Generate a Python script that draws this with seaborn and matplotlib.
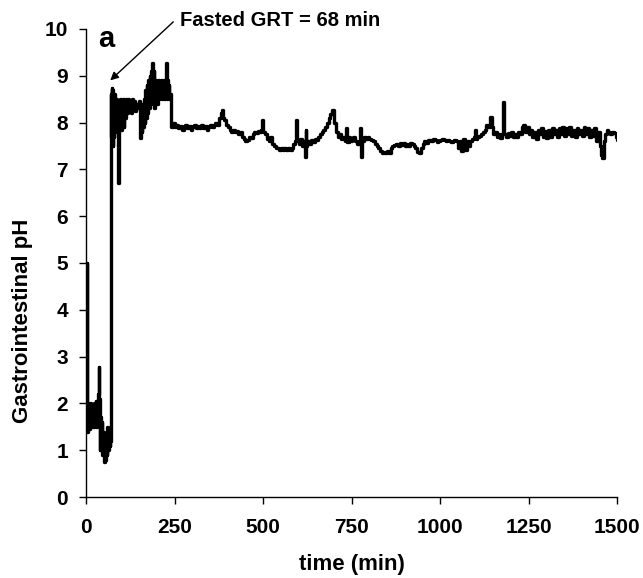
import matplotlib
matplotlib.use("Agg")
import matplotlib.pyplot as plt
import seaborn as sns
import pandas as pd

# ---- data ----
# stomach phase (0-68 min)
t_gastric = [0, 1, 2, 3, 4, 5, 7, 9, 11, 13, 15, 17, 19, 21, 23, 25, 27, 29, 31, 33,
             35, 36, 38, 40, 42, 44, 46, 48, 50, 52, 54, 56, 58, 60, 62, 64, 66, 67, 68]
ph_gastric = [1.6, 4.2, 5.0, 1.4, 1.9, 1.5, 1.8, 1.45, 2.0, 1.55, 1.9, 1.5, 1.7, 1.5, 2.0, 1.6, 2.05, 1.5, 1.7, 2.2,
              2.78, 2.1, 1.0, 1.7, 1.1, 1.6, 0.9, 1.4, 0.75, 1.3, 0.8, 1.2, 0.9, 1.5, 1.0, 1.4, 1.1, 1.3, 1.2]

# first small-intestine cluster (69-151 min)
t_si1 = [69, 70, 71, 72, 73, 74, 75, 76, 77, 78, 79, 80, 82, 84, 86, 88, 90, 91, 92, 94, 96,
         98, 100, 102, 104, 106, 108, 110, 112, 115, 118, 121, 124, 127, 130, 133, 136, 139,
         142, 145, 148, 151]
ph_si1 = [7.5, 8.6, 7.7, 8.74, 7.6, 8.7, 7.5, 8.6, 7.8, 8.5, 7.7, 8.6, 7.9, 8.5, 7.8, 8.4, 8.0, 6.7, 8.3, 7.9, 8.5,
          7.85, 8.45, 8.0, 8.5, 7.9, 8.4, 8.1, 8.5, 8.2, 8.5, 8.25, 8.45, 8.2, 8.5, 8.3, 8.45, 8.25,
          8.4, 8.3, 8.45, 8.3]

# second cluster (153-237 min)
t_si2 = [153, 155, 157, 159, 161, 163, 165, 167, 169, 171, 173, 175, 177, 179, 181, 183, 185, 187,
         189, 191, 193, 195, 197, 199, 201, 203, 205, 207, 209, 211, 213, 215, 217, 219, 221, 223,
         225, 227, 229, 231, 233, 235, 237]
ph_si2 = [7.67, 8.2, 7.8, 8.4, 7.9, 8.5, 8.0, 8.7, 8.1, 8.8, 8.2, 8.9, 8.3, 9.0, 8.4, 9.1, 8.5, 9.27,
          8.6, 9.1, 8.3, 8.9, 8.5, 8.8, 8.4, 8.9, 8.5, 8.8, 8.6, 8.9, 8.5, 8.8, 8.6, 8.9, 8.5, 8.7,
          9.27, 8.5, 8.9, 8.6, 8.8, 8.5, 8.6]

# remaining recording (239-1500 min)
t_late = [239, 241, 245, 250, 255, 260, 265, 270, 275, 280, 285, 290, 295, 300, 305, 310, 315, 320,
          325, 330, 335, 340, 345, 350, 355, 360, 365, 370, 375, 380, 383, 386, 390, 395, 400, 405,
          410, 415, 420, 425, 430, 435, 440, 445, 450, 455, 460, 465, 470, 475, 480, 485, 490, 495,
          498, 500, 505, 510, 515, 520, 525, 530, 535, 540, 545, 550, 555, 560, 565, 570, 575, 580,
          585, 590, 593, 596, 600, 605, 610, 615, 618, 620, 622, 625, 630, 635, 640, 645, 650, 655,
          660, 665, 670, 675, 680, 685, 690, 695, 700, 705, 710, 715, 720, 725, 730, 735, 738, 742,
          745, 750, 755, 760, 765, 770, 774, 776, 780, 785, 790, 795, 800, 805, 810, 815, 820, 825,
          830, 835, 840, 845, 850, 855, 860, 865, 870, 875, 880, 885, 890, 895, 900, 905, 910, 915,
          920, 925, 930, 935, 940, 945, 950, 955, 960, 965, 970, 975, 980, 985, 990, 995, 1000,
          1005, 1010, 1015, 1020, 1025, 1030, 1035, 1040, 1045, 1050, 1055, 1060, 1065, 1070, 1075,
          1080, 1085, 1090, 1095, 1098, 1100, 1105, 1110, 1115, 1120, 1125, 1130, 1135, 1140, 1145,
          1150, 1155, 1160, 1165, 1170, 1175, 1178, 1180, 1185, 1190, 1195, 1200, 1205, 1210, 1215,
          1220, 1225, 1230, 1235, 1240, 1245, 1250, 1255, 1260, 1265, 1270, 1275, 1280, 1285, 1290,
          1295, 1300, 1305, 1310, 1315, 1320, 1325, 1330, 1335, 1340, 1345, 1350, 1355, 1360, 1365,
          1370, 1375, 1380, 1385, 1390, 1395, 1400, 1405, 1410, 1415, 1420, 1425, 1430, 1435, 1440,
          1445, 1450, 1455, 1458, 1462, 1466, 1470, 1475, 1480, 1485, 1490, 1495, 1500]
ph_late = [8.25, 7.9, 8.0, 7.9, 7.95, 7.88, 7.92, 7.85, 7.9, 7.95, 7.88, 7.92, 7.85, 7.9, 7.95, 7.88, 7.92, 7.88,
           7.95, 7.88, 7.92, 7.85, 7.9, 7.95, 7.9, 7.95, 8.0, 7.95, 8.1, 8.2, 8.27, 8.1, 8.05, 7.95, 7.9, 7.85,
           7.8, 7.85, 7.8, 7.82, 7.75, 7.8, 7.7, 7.65, 7.6, 7.63, 7.7, 7.68, 7.75, 7.8, 7.78, 7.82, 7.8, 7.85,
           8.05, 7.8, 7.75, 7.65, 7.6, 7.7, 7.55, 7.5, 7.45, 7.46, 7.42, 7.45, 7.42, 7.45, 7.42, 7.45, 7.41, 7.45,
           7.55, 7.6, 8.05, 7.6, 7.55, 7.65, 7.5, 7.6, 7.27, 7.84, 7.5, 7.6, 7.55, 7.62, 7.58, 7.65, 7.62, 7.7,
           7.75, 7.8, 7.84, 7.9, 8.0, 8.1, 8.18, 8.27, 8.0, 7.8, 7.7, 7.75, 7.65, 7.7, 7.6, 7.88, 7.58, 7.7,
           7.6, 7.65, 7.7, 7.6, 7.55, 7.6, 7.88, 7.27, 7.6, 7.7, 7.65, 7.7, 7.65, 7.63, 7.6, 7.55, 7.5, 7.45,
           7.4, 7.35, 7.38, 7.35, 7.4, 7.35, 7.45, 7.5, 7.52, 7.55, 7.5, 7.56, 7.52, 7.56, 7.5, 7.55, 7.5, 7.56,
           7.55, 7.5, 7.45, 7.38, 7.35, 7.45, 7.55, 7.6, 7.56, 7.62, 7.63, 7.6, 7.65, 7.62, 7.58, 7.6, 7.62,
           7.65, 7.62, 7.6, 7.63, 7.6, 7.58, 7.6, 7.62, 7.6, 7.45, 7.6, 7.4, 7.65, 7.42, 7.6,
           7.5, 7.6, 7.65, 7.7, 7.84, 7.65, 7.7, 7.72, 7.75, 7.8, 7.85, 7.95, 7.9, 8.12, 7.9,
           7.75, 7.8, 7.7, 7.75, 7.68, 7.75, 8.44, 7.75, 7.7, 7.78, 7.72, 7.8, 7.7, 7.75, 7.7,
           7.8, 7.75, 7.9, 7.95, 7.8, 7.9, 7.75, 7.85, 7.7, 7.8, 7.65, 7.85, 7.75, 7.88, 7.7,
           7.82, 7.68, 7.85, 7.7, 7.88, 7.75, 7.85, 7.7, 7.88, 7.75, 7.9, 7.72, 7.88, 7.75, 7.9,
           7.72, 7.85, 7.7, 7.88, 7.75, 7.85, 7.72, 7.9, 7.75, 7.88, 7.7, 7.85, 7.72, 7.88, 7.6,
           7.8, 7.5, 7.3, 7.24, 7.6, 7.75, 7.85, 7.8, 7.75, 7.8, 7.78, 7.7, 7.63]

x_ticks = [0, 250, 500, 750, 1000, 1250, 1500]
y_ticks = list(range(0, 11))

df = pd.DataFrame({
    "time": t_gastric + t_si1 + t_si2 + t_late,
    "pH": ph_gastric + ph_si1 + ph_si2 + ph_late,
})

sns.set_style("ticks")
plt.rcParams["font.family"] = ["Liberation Sans", "DejaVu Sans"]
plt.rcParams["font.weight"] = "bold"
plt.rcParams["text.color"] = "black"
plt.rcParams["axes.labelcolor"] = "black"
plt.rcParams["xtick.color"] = "black"
plt.rcParams["ytick.color"] = "black"
plt.rcParams["axes.edgecolor"] = "black"

fig = plt.figure(figsize=(6.43, 5.78), dpi=100)
ax = fig.add_axes([0.134, 0.140, 0.826, 0.810])

sns.lineplot(data=df, x="time", y="pH", ax=ax, color="black", linewidth=2.4,
             estimator=None, sort=False, drawstyle="steps-post")

ax.set_xlim(0, 1500)
ax.set_ylim(0, 10)
ax.set_xticks(x_ticks)
ax.set_yticks(y_ticks)
ax.tick_params(axis="both", labelsize=15, length=5, width=1, direction="out",
               color="black", labelcolor="black")
ax.tick_params(axis="x", pad=10)
ax.tick_params(axis="y", pad=8)
for lab in ax.get_xticklabels() + ax.get_yticklabels():
    lab.set_fontweight("bold")
for s in ["top", "right"]:
    ax.spines[s].set_visible(False)
for s in ["left", "bottom"]:
    ax.spines[s].set_linewidth(1)
    ax.spines[s].set_color("black")

ax.set_xlabel("time (min)", fontsize=16, fontweight="bold", labelpad=12, color="black")
ax.set_ylabel("Gastrointestinal pH", fontsize=16, fontweight="bold", color="black")
ax.yaxis.set_label_coords(-0.100, 0.376)

ax.text(34, 9.62, "a", fontsize=21, fontweight="bold", va="baseline", ha="left", color="black")
ax.text(265, 10.19, "Fasted GRT = 68 min", fontsize=14.5, fontweight="bold",
        va="center", ha="left", clip_on=False, color="black")
ax.annotate("", xy=(68, 8.9), xytext=(246, 10.15), textcoords="data",
            annotation_clip=False,
            arrowprops=dict(arrowstyle="-|>", color="black", lw=1, mutation_scale=12,
                            shrinkA=0, shrinkB=0))

fig.savefig("out.png", dpi=100)
